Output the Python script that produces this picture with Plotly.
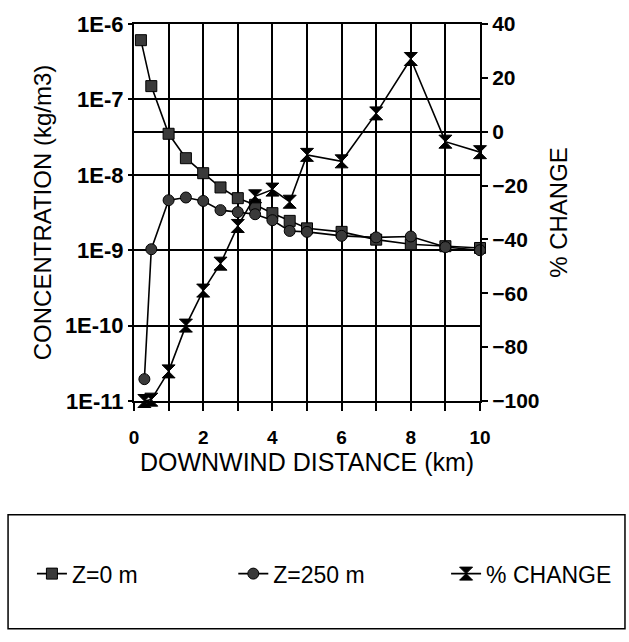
import plotly.graph_objects as go

# Downwind distance (km) for each series
dist_z0 = [0.2, 0.5, 1.0, 1.5, 2.0, 2.5, 3.0, 3.5, 4.0, 4.5, 5.0, 6.0, 7.0, 8.0, 9.0, 10.0]
dist_z250 = [0.3, 0.5, 1.0, 1.5, 2.0, 2.5, 3.0, 3.5, 4.0, 4.5, 5.0, 6.0, 7.0, 8.0, 9.0, 10.0]
dist_pct = [0.3, 0.5, 1.0, 1.5, 2.0, 2.5, 3.0, 3.5, 4.0, 4.5, 5.0, 6.0, 7.0, 8.0, 9.0, 10.0]

# Ground-level concentration (kg/m3) for release height Z=0 m and Z=250 m
conc_z0 = [6.1e-7, 1.5e-7, 3.5e-8, 1.66e-8, 1.05e-8, 6.8e-9, 4.9e-9, 4.0e-9,
           3.1e-9, 2.45e-9, 1.95e-9, 1.75e-9, 1.38e-9, 1.2e-9, 1.13e-9, 1.07e-9]
conc_z250 = [1.95e-11, 1.03e-9, 4.6e-9, 5.0e-9, 4.5e-9, 3.4e-9, 3.2e-9, 3.0e-9,
             2.5e-9, 1.8e-9, 1.75e-9, 1.55e-9, 1.48e-9, 1.52e-9, 1.1e-9, 1.0e-9]

# Percent change between the two release heights
pct_change = [-100, -99.5, -89, -72, -59, -49, -35, -24,
              -21.5, -26, -8.6, -11, 6.8, 27, -3.7, -7.6]

# Axis ticks
conc_tickvals = [1e-11, 1e-10, 1e-9, 1e-8, 1e-7, 1e-6]
conc_ticktext = ["1E-11", "1E-10", "1E-9", "1E-8", "1E-7", "1E-6"]
pct_tickvals = [-100, -80, -60, -40, -20, 0, 20, 40]

FONT = "Liberation Sans, Arial, sans-serif"
INK = "black"
FILL = "#3a3a3a"

fig = go.Figure()

fig.add_trace(go.Scatter(
    x=dist_z0, y=conc_z0, name="Z=0 m", mode="lines+markers",
    line=dict(color=INK, width=1.6),
    marker=dict(symbol="square", size=11, color=FILL, line=dict(color=INK, width=1)),
    cliponaxis=False, legend="legend",
))
fig.add_trace(go.Scatter(
    x=dist_z250, y=conc_z250, name="Z=250 m", mode="lines+markers",
    line=dict(color=INK, width=1.6),
    marker=dict(symbol="circle", size=11, color=FILL, line=dict(color=INK, width=1)),
    cliponaxis=False, legend="legend2",
))
fig.add_trace(go.Scatter(
    x=dist_pct, y=pct_change, name="% CHANGE", mode="lines+markers", yaxis="y2",
    line=dict(color=INK, width=1.6),
    marker=dict(symbol="hourglass", size=13, color=INK, line=dict(color=INK, width=1)),
    cliponaxis=False, legend="legend3",
))

legend_common = dict(
    bgcolor="rgba(0,0,0,0)", borderwidth=0, orientation="h",
    font=dict(family=FONT, size=23, color=INK),
    yanchor="middle", y=-0.458, xanchor="left",
)

fig.update_layout(
    width=629, height=642,
    margin=dict(l=134, r=149, t=17, b=241, pad=0),
    paper_bgcolor="white", plot_bgcolor="white",
    font=dict(family=FONT, color=INK),
    showlegend=True,
    legend=dict(x=-0.295, **legend_common),
    legend2=dict(x=0.287, **legend_common),
    legend3=dict(x=0.902, **legend_common),
    xaxis=dict(
        range=[0, 10], dtick=2, tick0=0,
        showgrid=True, gridcolor=INK, gridwidth=1.5,
        ticks="outside", ticklen=8, tickwidth=1.5, tickcolor=INK,
        minor=dict(dtick=1, ticks="outside", ticklen=8, tickwidth=1.5, tickcolor=INK,
                   showgrid=True, gridcolor=INK, gridwidth=1.5),
        showline=True, linecolor=INK, linewidth=2, mirror=True,
        zeroline=False,
        ticklabelstandoff=10,
        tickfont=dict(family=FONT, size=19, color=INK, weight="bold"),
        title=dict(text="DOWNWIND DISTANCE (km)", font=dict(family=FONT, size=25, color=INK), standoff=6),
    ),
    yaxis=dict(
        type="log", range=[-11, -6],
        tickvals=conc_tickvals, ticktext=conc_ticktext,
        showgrid=True, gridcolor=INK, gridwidth=1.5,
        ticks="outside", ticklen=4, tickwidth=1.5, tickcolor=INK,
        showline=True, linecolor=INK, linewidth=2,
        zeroline=False,
        tickfont=dict(family=FONT, size=22, color=INK, weight="bold"),
        title=dict(text="CONCENTRATION (kg/m3)", font=dict(family=FONT, size=24, color=INK), standoff=6),
    ),
    yaxis2=dict(
        overlaying="y", side="right", range=[-100, 40],
        tickvals=pct_tickvals,
        showgrid=False,
        zeroline=True, zerolinecolor=INK, zerolinewidth=1.5,
        ticks="outside", ticklen=6, tickwidth=1.5, tickcolor=INK,
        showline=True, linecolor=INK, linewidth=2,
        tickfont=dict(family=FONT, size=21, color=INK, weight="bold"),
        title=dict(text="% CHANGE", font=dict(family=FONT, size=24, color=INK), standoff=12),
    ),
    shapes=[dict(
        type="rect", xref="paper", yref="paper",
        x0=-0.364, x1=1.419, y0=-0.604, y1=-0.302,
        line=dict(color=INK, width=1.5), fillcolor="rgba(0,0,0,0)", layer="above",
    )],
)

fig.write_html("out.html")
